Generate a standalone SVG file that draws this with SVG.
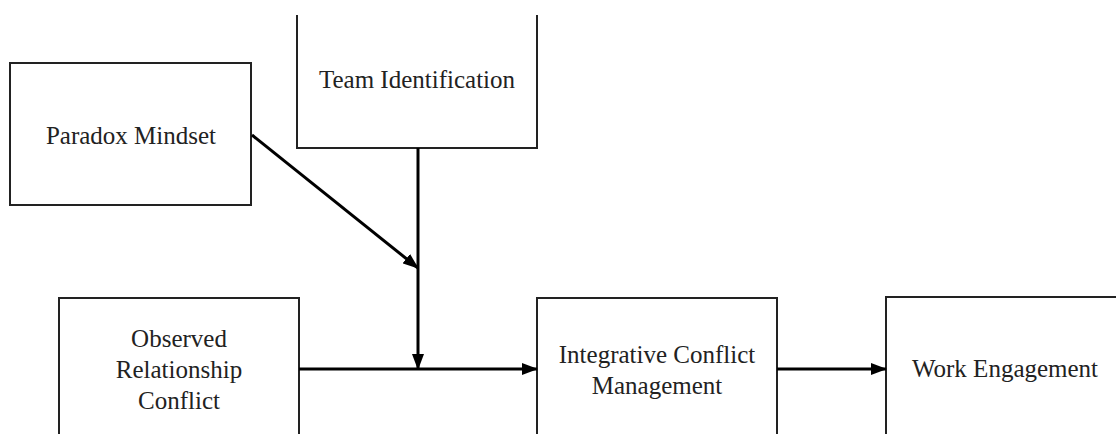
<svg xmlns="http://www.w3.org/2000/svg" width="1116" height="434" viewBox="0 0 1116 434">
<style>
.box{fill:#fff;stroke:#222;stroke-width:2}
.lbl{font-family:"Liberation Serif","Times New Roman",serif;font-size:25px;fill:#222;text-anchor:middle}
.conn{stroke:#000;stroke-width:3;fill:none}
</style>
<defs>
<marker id="ah" markerUnits="userSpaceOnUse" markerWidth="16" markerHeight="12" refX="15" refY="6" orient="auto">
<path d="M0,0 L16,6 L0,12 Z" fill="#000"/>
</marker>
</defs>
<rect width="1116" height="434" fill="#fff"/>
<g id="team-identification">
<path class="box" d="M297,15 V148 H537 V15"/>
<text class="lbl" x="417" y="88">Team Identification</text>
</g>
<g id="paradox-mindset">
<rect class="box" x="10" y="63" width="241" height="142"/>
<text class="lbl" x="131" y="144">Paradox Mindset</text>
</g>
<g id="observed-relationship-conflict">
<path class="box" d="M59,436 V298 H299 V436"/>
<text class="lbl" x="179" y="347">Observed</text>
<text class="lbl" x="179" y="378">Relationship</text>
<text class="lbl" x="179" y="409">Conflict</text>
</g>
<g id="integrative-conflict-management">
<path class="box" d="M537,436 V298 H777 V436"/>
<text class="lbl" x="657" y="363">Integrative Conflict</text>
<text class="lbl" x="657" y="394">Management</text>
</g>
<g id="work-engagement">
<path class="box" d="M886,436 V297 H1118"/>
<text class="lbl" x="1005" y="377">Work Engagement</text>
</g>
<g id="connectors">
<line class="conn" x1="299" y1="369" x2="537" y2="369" marker-end="url(#ah)"/>
<line class="conn" x1="777" y1="369" x2="886" y2="369" marker-end="url(#ah)"/>
<line class="conn" x1="418" y1="148" x2="418" y2="369" marker-end="url(#ah)"/>
<line class="conn" x1="252" y1="135" x2="418" y2="268" marker-end="url(#ah)"/>
</g>
</svg>
